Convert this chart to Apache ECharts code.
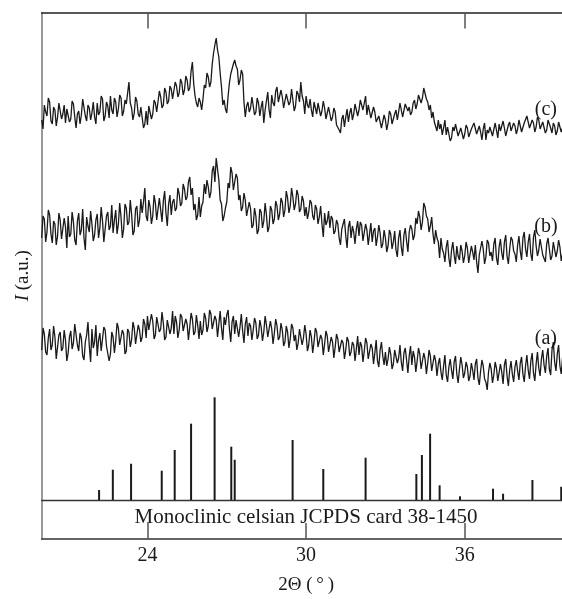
<!DOCTYPE html>
<html><head><meta charset="utf-8">
<script src="https://cdn.jsdelivr.net/npm/echarts@6/dist/echarts.min.js"></script>
<style>html,body{margin:0;padding:0;background:#fff}#c{width:562px;height:599px}</style>
</head><body><div id="c"></div><script>
// 2-theta sampling of the traces
const thetaStart = 20.0;
const thetaStep = 0.05;

// Trace (a) intensity (a.u., incl. vertical offset), 20.00 .. 39.70 deg
const traceA = [
150,172,166,148,145,162,171,150,155,174,163,141,142,165,168,149,152,170,160,139,
147,163,169,151,157,176,174,155,149,167,162,144,140,158,165,178,154,138,171,152,
158,175,144,160,167,149,151,173,170,154,156,139,146,168,163,147,159,177,172,155,
153,170,166,146,149,171,168,153,160,178,172,156,157,175,170,158,163,181,176,162,
184,170,168,186,179,161,165,183,182,168,171,188,177,160,163,180,180,166,172,189,
166,184,178,162,170,186,183,169,167,181,176,160,173,187,181,165,168,185,175,161,
179,165,170,187,182,168,174,190,186,171,169,184,180,163,176,189,172,160,183,175,
185,190,171,158,178,184,166,180,180,163,173,186,169,157,176,183,164,177,174,160,
170,182,177,161,165,180,173,159,168,184,175,163,162,179,171,156,167,181,174,160,
163,177,170,154,158,174,168,152,161,176,172,159,165,150,157,171,169,155,162,175,
166,149,155,170,163,147,158,172,168,153,152,165,161,145,156,169,164,148,150,163,
158,142,153,166,161,148,146,160,157,141,150,163,159,144,148,158,155,139,151,164,
145,158,154,138,149,162,157,141,143,156,152,136,147,160,139,133,150,158,144,135,
148,134,141,153,146,131,136,150,150,137,142,155,138,129,147,152,140,127,144,154,
135,149,143,128,139,152,146,131,132,147,141,126,137,150,144,129,131,145,139,124,
136,142,128,120,134,145,125,118,133,141,130,121,138,144,126,117,131,143,135,122,
127,138,133,119,124,137,130,120,136,141,122,115,129,140,134,121,118,110,128,137,
131,117,125,138,132,119,121,136,128,116,135,141,124,114,130,139,126,118,133,140,
129,120,137,143,126,118,134,145,130,121,139,147,127,119,136,148,132,124,141,150,
135,127,144,152,131,125,150,158,138,129,146,155,134,126,143
];

// Trace (b)
const traceB = [
262,284,281,258,268,290,285,266,257,279,276,255,264,287,280,261,259,282,273,252,
284,263,266,288,278,260,255,279,287,265,270,291,262,250,283,274,268,289,276,259,
265,280,286,262,272,293,279,258,260,284,288,270,274,295,267,280,290,266,276,297,
283,262,271,296,292,275,278,300,286,265,269,291,294,273,280,301,287,298,312,284,
279,300,293,276,284,305,297,280,281,302,290,278,299,309,287,274,296,305,285,298,
301,289,292,312,306,294,297,316,311,300,303,318,323,305,312,290,296,280,285,303,
283,294,298,316,306,320,313,302,308,329,334,318,342,331,320,300,296,279,284,292,
298,317,312,333,327,310,318,326,322,300,305,289,293,307,300,284,286,298,291,272,
275,292,284,266,270,291,288,272,279,297,285,268,273,294,290,276,281,299,294,280,
286,302,298,283,290,309,302,287,294,312,303,290,296,310,305,288,291,304,299,284,
293,281,288,300,297,284,280,295,291,276,283,294,276,263,287,275,279,289,272,284,
281,266,269,280,276,262,255,271,270,281,264,252,273,279,262,274,268,256,271,279,
264,278,275,259,261,276,270,255,266,277,258,269,272,254,263,275,267,252,256,270,
262,248,254,270,266,251,258,269,250,243,262,270,253,244,265,272,259,248,268,275,
271,260,265,282,276,289,283,270,278,297,293,284,281,268,274,283,266,256,270,262,
258,242,262,251,247,238,253,260,242,233,250,258,245,236,254,244,240,255,249,237,
244,258,252,237,239,254,248,240,255,238,227,245,246,259,251,236,243,260,257,244,
248,239,256,262,242,235,253,261,247,240,258,265,244,236,251,263,260,249,246,238,
255,264,249,240,262,268,251,243,258,266,246,239,263,270,254,244,250,261,259,245,
247,238,256,262,251,240,244,258,257,243,249,260,253,239,246
];

// Trace (c)
const traceC = [
380,371,395,388,384,402,398,379,376,393,390,374,383,397,399,381,386,395,377,391,
393,378,381,399,396,383,372,386,389,376,385,401,400,384,379,395,392,380,387,398,
383,376,397,385,388,404,401,379,384,398,394,382,404,390,386,402,398,383,391,405,
402,384,389,400,396,407,418,397,392,380,387,403,399,386,383,393,395,372,376,389,
375,394,392,381,386,400,397,388,390,409,403,392,395,412,408,396,399,414,411,401,
402,418,414,403,407,421,417,405,410,424,420,409,412,429,438,416,404,397,393,402,
398,390,401,415,412,427,423,413,418,436,447,455,462,450,443,427,413,395,400,391,
387,404,417,426,428,436,440,434,431,415,420,430,426,398,383,394,398,388,392,403,
401,385,388,402,397,384,393,399,377,390,399,408,390,382,405,397,394,409,413,398,
396,410,403,392,390,406,408,395,398,411,400,389,394,409,406,398,418,404,399,386,
404,395,392,401,390,383,398,392,386,397,395,384,389,399,392,381,380,393,391,379,
383,392,388,375,376,370,367,381,385,373,383,391,378,387,392,380,386,396,394,384,
390,400,399,390,397,404,385,395,393,382,381,393,388,378,376,384,385,372,373,385,
380,370,377,389,386,376,374,386,390,380,388,397,395,383,384,396,398,389,393,385,
388,397,400,391,396,405,404,397,402,412,410,401,398,390,395,382,388,378,380,369,
380,371,376,365,372,380,365,373,371,359,362,373,369,376,374,364,363,372,370,361,
366,375,372,363,361,371,369,377,375,366,364,374,368,360,371,377,360,370,367,373,
373,364,365,377,370,362,376,369,368,379,372,364,366,375,378,369,369,377,374,366,
371,380,379,368,368,377,375,384,382,372,370,380,377,368,373,383,380,371,369,378,
376,367,370,380,381,372,367,377,374,365,369,378,377,368,372
];

// JCPDS 38-1450 reference lines
const stickTheta = [22.17,22.69,23.38,24.54,25.03,25.65,26.54,27.17,27.30,29.49,30.65,32.25,34.17,34.38,34.69,35.05,35.82,37.07,37.45,38.56,39.65];
const stickIntensity = [9.7,29.5,35.3,28.5,48.7,74.3,100,51.9,39.2,58.4,30.2,41.2,25.3,43.8,64.6,14.3,3.6,11.0,6.1,19.5,13.0];

const tickValues = [24, 30, 36];
const traceNames = ['(a)', '(b)', '(c)'];
const cardText = 'Monoclinic celsian JCPDS card 38-1450';

const FONT = 'Liberation Serif';
const INK = '#1a1a1a';

function toPairs(arr) {
  return arr.map((v, i) => [+(thetaStart + i * thetaStep).toFixed(2), v]);
}
const sticks = stickTheta.map((t, i) => [t, stickIntensity[i]]);

function traceSeries(data, name, labelLevel) {
  return {
    type: 'line', name: name, xAxisIndex: 2, yAxisIndex: 1,
    data: toPairs(data), showSymbol: false, symbol: 'none', silent: true,
    lineStyle: { color: INK, width: 1.3 }, animation: false,
    markPoint: {
      symbol: 'circle', symbolSize: 0, silent: true,
      label: { show: true, formatter: name, fontFamily: FONT, fontSize: 20, color: '#1a1a1a',
        position: 'inside', textBorderWidth: 0, textBorderColor: 'transparent' },
      data: [{ coord: [39.07, labelLevel] }]
    }
  };
}

const chart = echarts.init(document.getElementById('c'), null, { renderer: 'canvas' });
chart.setOption({
  animation: false,
  backgroundColor: '#fff',
  grid: [
    { left: 41.7, right: -8.5, top: 12.5, bottom: 60, outerBoundsMode: 'none', containLabel: false },
    { left: 41.7, right: -8.5, top: 12.5, bottom: 99, outerBoundsMode: 'none', containLabel: false },
    { left: 41.7, right: -8.5, top: 500, bottom: 60, outerBoundsMode: 'none', containLabel: false }
  ],
  xAxis: [
    {
      gridIndex: 0, type: 'value', min: 20, max: 40, position: 'bottom',
      axisLine: { show: true, lineStyle: { color: '#333', width: 1.5 } },
      axisTick: { show: true, inside: true, length: 16, customValues: tickValues, lineStyle: { color: '#555', width: 1.5 } },
      axisLabel: { show: true, customValues: tickValues, fontFamily: FONT, fontSize: 20, color: '#1a1a1a', margin: 7 },
      splitLine: { show: false },
      name: '2\u0398 (\u2009\u00b0\u2009)', nameLocation: 'middle', nameGap: 37,
      nameTextStyle: { fontFamily: FONT, fontSize: 19, color: '#1a1a1a' }
    },
    {
      gridIndex: 0, type: 'value', min: 20, max: 40, position: 'top',
      axisLine: { show: true, lineStyle: { color: '#222', width: 1.5 } },
      axisTick: { show: true, inside: true, length: 16, customValues: tickValues, lineStyle: { color: '#555', width: 1.5 } },
      axisLabel: { show: false }, splitLine: { show: false }
    },
    {
      gridIndex: 1, type: 'value', min: 20, max: 40, position: 'bottom',
      axisLine: { show: true, onZero: false, lineStyle: { color: '#333', width: 1.3 } },
      axisTick: { show: false }, axisLabel: { show: false }, splitLine: { show: false }
    },
    { gridIndex: 2, type: 'value', min: 20, max: 40, show: false }
  ],
  yAxis: [
    {
      gridIndex: 0, type: 'value', min: 0, max: 1, position: 'left',
      axisLine: { show: true, lineStyle: { color: '#777', width: 1.5 } },
      axisTick: { show: false }, axisLabel: { show: false }, splitLine: { show: false },
      name: '{it|I} (a.u.)', nameLocation: 'middle', nameGap: 9,
      nameTextStyle: { fontFamily: FONT, fontSize: 19, color: '#1a1a1a',
        rich: { it: { fontFamily: FONT, fontSize: 19, fontStyle: 'italic', color: '#1a1a1a' } } }
    },
    { gridIndex: 1, type: 'value', min: 0, max: 487.5, show: false },
    { gridIndex: 1, type: 'value', min: 0, max: 474.7, show: false },
    { gridIndex: 2, type: 'value', min: 0, max: 1, show: false }
  ],
  series: [
    traceSeries(traceA, traceNames[0], 161.7),
    traceSeries(traceB, traceNames[1], 273.3),
    traceSeries(traceC, traceNames[2], 390),
    {
      type: 'custom', xAxisIndex: 2, yAxisIndex: 2, data: sticks, silent: true,
      renderItem: function (params, api) {
        const x = api.value(0), y = api.value(1);
        const p0 = api.coord([x, 0]);
        const p1 = api.coord([x, y]);
        return { type: 'line', shape: { x1: p0[0], y1: p0[1], x2: p1[0], y2: p1[1] },
          style: { stroke: INK, lineWidth: 2 } };
      }
    }
  ]
});

// card caption centred in the lower box, placed through the box grid's scales
const anchor = chart.convertToPixel({ gridIndex: 2 }, [30, 0.56]);
chart.setOption({
  graphic: [{
    type: 'text', x: anchor[0], y: anchor[1], silent: true,
    style: { text: cardText, fontFamily: FONT, fontSize: 21, fill: '#1a1a1a',
      align: 'center', verticalAlign: 'middle' }
  }]
});
</script></body></html>
